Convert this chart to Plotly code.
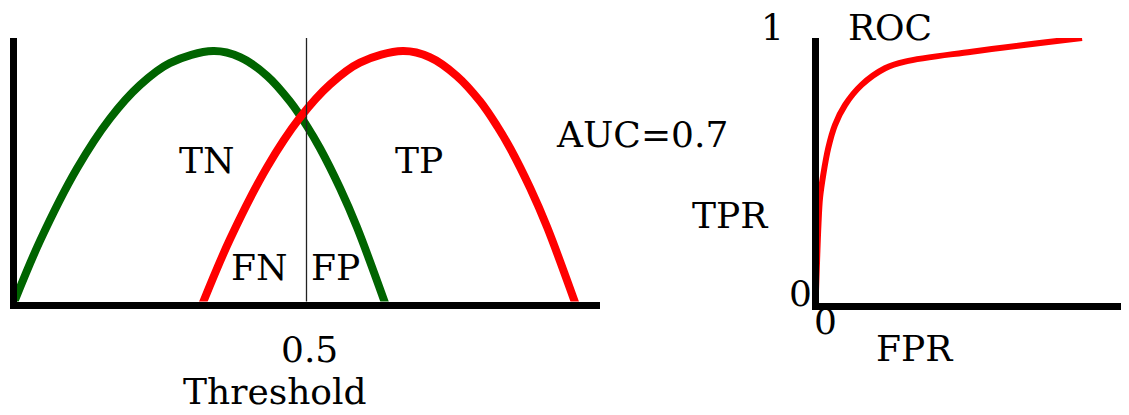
import plotly.graph_objects as go

# Page is 1129x415; the browser's default 8px body margin offsets the figure.
PAGE_W, PAGE_H = 1129, 415
OFF = 8
W, H = PAGE_W - OFF, PAGE_H - OFF

# ---- data ----
threshold = 0.5

neg_x = [0.000, 0.046, 0.109, 0.165, 0.216, 0.267, 0.341, 0.387, 0.433, 0.472, 0.501, 0.523, 0.557, 0.586, 0.635]
neg_y = [0.000, 0.240, 0.511, 0.698, 0.823, 0.906, 0.951, 0.928, 0.858, 0.762, 0.669, 0.587, 0.438, 0.291, 0.000]

pos_x = [0.322, 0.370, 0.433, 0.489, 0.540, 0.591, 0.664, 0.710, 0.756, 0.796, 0.825, 0.847, 0.881, 0.910, 0.959]
pos_y = [0.000, 0.248, 0.517, 0.702, 0.826, 0.908, 0.951, 0.928, 0.858, 0.762, 0.669, 0.587, 0.438, 0.291, 0.000]

roc_fpr = [0.000, 0.006, 0.011, 0.017, 0.029, 0.048, 0.073, 0.111, 0.173, 0.261, 0.336, 0.586, 1.000]
roc_tpr = [0.000, 0.172, 0.302, 0.403, 0.489, 0.590, 0.675, 0.750, 0.825, 0.887, 0.912, 0.949, 1.000]

auc_text = "AUC=0.7"
region_labels = ["TN", "TP", "FN", "FP"]


def px(x):
    """page pixel x -> paper coordinate"""
    return (x - OFF) / W


def py(y):
    """page pixel y -> paper coordinate"""
    return 1 - (y - OFF) / H


fig = go.Figure()
fig.add_trace(go.Scatter(x=neg_x, y=neg_y, mode="lines",
                         line=dict(color="#006400", width=8, shape="spline", smoothing=1.0),
                         xaxis="x", yaxis="y", hoverinfo="skip"))
fig.add_trace(go.Scatter(x=pos_x, y=pos_y, mode="lines",
                         line=dict(color="#ff0000", width=8, shape="spline", smoothing=1.0),
                         xaxis="x", yaxis="y", hoverinfo="skip"))
fig.add_trace(go.Scatter(x=[threshold, threshold], y=[0, 1], mode="lines",
                         line=dict(color="#222222", width=1.3),
                         xaxis="x", yaxis="y", hoverinfo="skip"))
fig.add_trace(go.Scatter(x=roc_fpr, y=roc_tpr, mode="lines",
                         line=dict(color="#ff0000", width=6, shape="spline", smoothing=1.0),
                         xaxis="x2", yaxis="y2", hoverinfo="skip"))

ax_common = dict(showgrid=False, zeroline=False, showticklabels=False, ticks="",
                 showline=True, linecolor="black", linewidth=7, layer="above traces",
                 fixedrange=True)

fig.update_layout(
    width=W, height=H,
    margin=dict(l=0, r=0, t=0, b=0),
    paper_bgcolor="white", plot_bgcolor="white",
    showlegend=False,
    xaxis=dict(domain=[px(16.5), px(600)], range=[(16.5 - 13) / 587, 1.0], anchor="y", **ax_common),
    yaxis=dict(domain=[py(301.5), py(38)], range=[(305 - 301.5) / 267, 1.0], anchor="x", **ax_common),
    xaxis2=dict(domain=[px(819), 1.0], range=[(819 - 815.5) / 266.5, (PAGE_W - 815.5) / 266.5],
                anchor="y2", **ax_common),
    yaxis2=dict(domain=[py(302.5), py(38)], range=[(306 - 302.5) / 268, 1.0], anchor="x2", **ax_common),
)

font = dict(family="DejaVu Serif", size=36, color="black")


def label(text, x, y, **kw):
    d = dict(text=text, x=px(x), y=py(y), xref="paper", yref="paper",
             xanchor="center", yanchor="middle", showarrow=False, font=font)
    d.update(kw)
    fig.add_annotation(**d)


label(region_labels[0], 207, 160.5)
label(region_labels[1], 418.5, 160.5)
label(region_labels[2], 258.5, 267.5)
label(region_labels[3], 335.5, 267.5)
fig.add_annotation(text=str(threshold), x=threshold, xref="x", xshift=3, y=py(349), yref="paper",
                   xanchor="center", yanchor="middle", showarrow=False, font=font)
label("Threshold", 275, 391.5)
label(auc_text, 641.5, 134)
label("1", 772, 28)
label("0", 800, 293.5)
label("0", 825.5, 321.5)
label("ROC", 890, 27)
label("TPR", 730, 215)
label("FPR", 914, 348.5)

fig.write_html("out.html")
